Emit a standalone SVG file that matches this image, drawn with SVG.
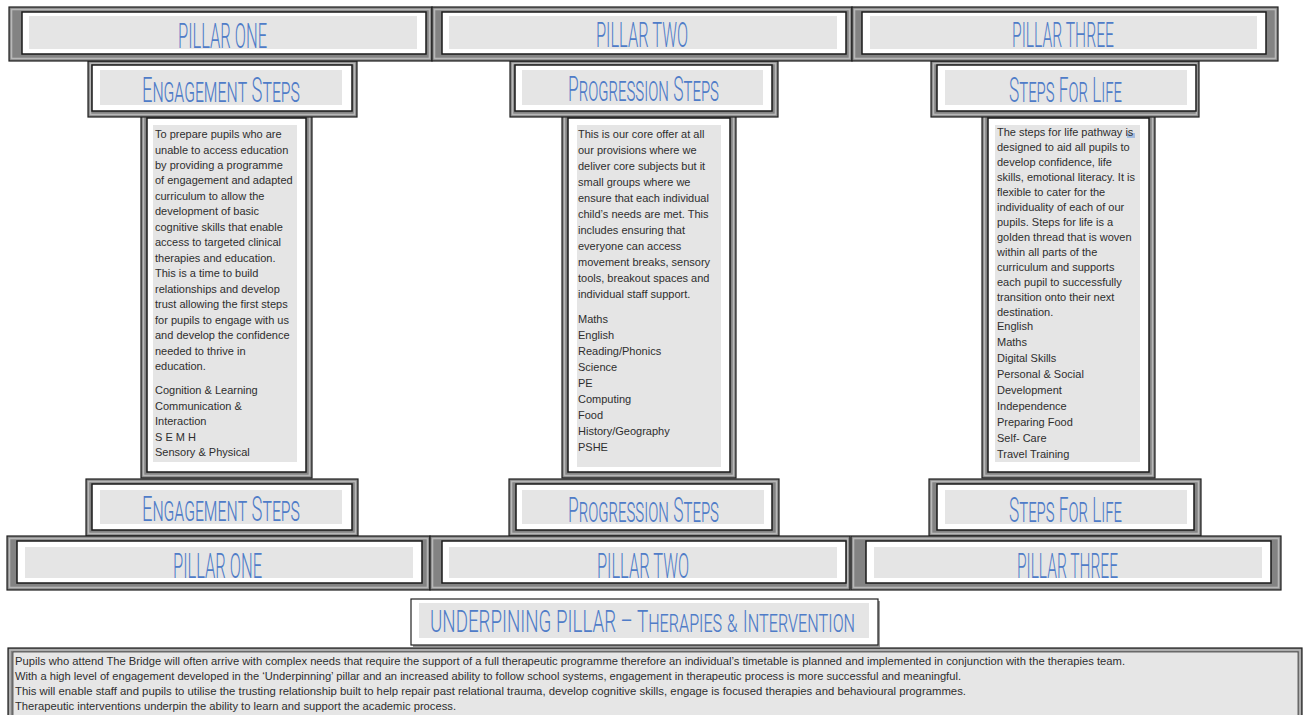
<svg xmlns="http://www.w3.org/2000/svg" width="1303" height="715" viewBox="0 0 1303 715">
<defs>
<style>
.frame{fill:#838383;stroke:#1e1e1e;stroke-width:1.2}
.bevel{fill:none;stroke:#c2c2c2;stroke-width:1.6;opacity:.85}
.inner{fill:#fff;stroke:#1a1a1a;stroke-width:1.5}
.panel{fill:#e5e5e5}
.title{font-family:Roboto,"Liberation Sans",sans-serif;font-weight:300;fill:#4f7cc8}
.sc{font-variant:small-caps}
.body{font-family:"Liberation Sans",Arial,sans-serif;font-size:11px;fill:#2e2e2e}
.foot{font-family:"Liberation Sans",Arial,sans-serif;font-size:10.5px;fill:#2e2e2e}
</style>
</defs>
<rect width="1303" height="715" fill="#fff"/>

<!-- Columns -->
<g id="column-one">
<rect class="frame" x="141" y="114" width="171" height="364"/>
<rect class="bevel" x="143.5" y="116.5" width="166" height="359"/>
<rect class="inner" x="147" y="118" width="159" height="354"/>
<rect class="panel" x="153" y="125" width="144" height="337"/>
<g class="body">
<text x="155" y="138">To prepare pupils who are</text>
<text x="155" y="153.5">unable to access education</text>
<text x="155" y="169">by providing a programme</text>
<text x="155" y="184.4">of engagement and adapted</text>
<text x="155" y="199.9">curriculum to allow the</text>
<text x="155" y="215.4">development of basic</text>
<text x="155" y="230.8">cognitive skills that enable</text>
<text x="155" y="246.3">access to targeted clinical</text>
<text x="155" y="261.8">therapies and education.</text>
<text x="155" y="277.2">This is a time to build</text>
<text x="155" y="292.7">relationships and develop</text>
<text x="155" y="308.2">trust allowing the first steps</text>
<text x="155" y="323.6">for pupils to engage with us</text>
<text x="155" y="339.1">and develop the confidence</text>
<text x="155" y="354.6">needed to thrive in</text>
<text x="155" y="370">education.</text>
<text x="155" y="394.3">Cognition &amp; Learning</text>
<text x="155" y="409.8">Communication &amp;</text>
<text x="155" y="425.3">Interaction</text>
<text x="155" y="440.8">S E M H</text>
<text x="155" y="456.3">Sensory &amp; Physical</text>
</g>
</g>

<g id="column-two">
<rect class="frame" x="562" y="114" width="174" height="364"/>
<rect class="bevel" x="564.5" y="116.5" width="169" height="359"/>
<rect class="inner" x="568" y="118" width="162" height="354"/>
<rect class="panel" x="577" y="125" width="144" height="342"/>
<g class="body">
<text x="578" y="137.5">This is our core offer at all</text>
<text x="578" y="153.5">our provisions where we</text>
<text x="578" y="169.5">deliver core subjects but it</text>
<text x="578" y="185.5">small groups where we</text>
<text x="578" y="201.5">ensure that each individual</text>
<text x="578" y="217.5">child’s needs are met. This</text>
<text x="578" y="233.5">includes ensuring that</text>
<text x="578" y="249.5">everyone can access</text>
<text x="578" y="265.5">movement breaks, sensory</text>
<text x="578" y="281.5">tools, breakout spaces and</text>
<text x="578" y="297.5">individual staff support.</text>
<text x="578" y="323">Maths</text>
<text x="578" y="339">English</text>
<text x="578" y="355">Reading/Phonics</text>
<text x="578" y="371">Science</text>
<text x="578" y="387">PE</text>
<text x="578" y="403">Computing</text>
<text x="578" y="419">Food</text>
<text x="578" y="435">History/Geography</text>
<text x="578" y="451">PSHE</text>
</g>
</g>

<g id="column-three">
<rect class="frame" x="982" y="114" width="173" height="364"/>
<rect class="bevel" x="984.5" y="116.5" width="168" height="359"/>
<rect class="inner" x="988" y="118" width="161" height="354"/>
<rect class="panel" x="995" y="125" width="145" height="337"/>
<rect x="1127" y="133" width="8" height="5" fill="#8fb0e0" opacity="0.75"/>
<g class="body">
<text x="997" y="135.7">The steps for life pathway is</text>
<text x="997" y="150.7">designed to aid all pupils to</text>
<text x="997" y="165.7">develop confidence, life</text>
<text x="997" y="180.7">skills, emotional literacy. It is</text>
<text x="997" y="195.7">flexible to cater for the</text>
<text x="997" y="210.7">individuality of each of our</text>
<text x="997" y="225.7">pupils. Steps for life is a</text>
<text x="997" y="240.7">golden thread that is woven</text>
<text x="997" y="255.7">within all parts of the</text>
<text x="997" y="270.7">curriculum and supports</text>
<text x="997" y="285.7">each pupil to successfully</text>
<text x="997" y="300.7">transition onto their next</text>
<text x="997" y="315.7">destination.</text>
<text x="997" y="330.3">English</text>
<text x="997" y="346.2">Maths</text>
<text x="997" y="362.1">Digital Skills</text>
<text x="997" y="378">Personal &amp; Social</text>
<text x="997" y="394">Development</text>
<text x="997" y="410">Independence</text>
<text x="997" y="425.8">Preparing Food</text>
<text x="997" y="441.7">Self- Care</text>
<text x="997" y="457.6">Travel Training</text>
</g>
</g>

<!-- Top step boxes -->
<g id="engagement-top">
<rect class="frame" x="88" y="61" width="269" height="56"/>
<rect class="bevel" x="90.5" y="63.5" width="264" height="51"/>
<rect class="inner" x="92" y="65" width="260" height="46"/>
<rect class="panel" x="100" y="70" width="242" height="35"/>
<text class="title sc" x="142" y="102" font-size="35" textLength="158" lengthAdjust="spacingAndGlyphs">Engagement Steps</text>
</g>
<g id="progression-top">
<rect class="frame" x="510" y="61" width="268" height="56"/>
<rect class="bevel" x="512.5" y="63.5" width="263" height="51"/>
<rect class="inner" x="515" y="65" width="257" height="46"/>
<rect class="panel" x="522" y="70" width="241" height="35"/>
<text class="title sc" x="568" y="101" font-size="35" textLength="151" lengthAdjust="spacingAndGlyphs">Progression Steps</text>
</g>
<g id="stepsforlife-top">
<rect class="frame" x="931" y="61" width="268" height="56"/>
<rect class="bevel" x="933.5" y="63.5" width="263" height="51"/>
<rect class="inner" x="937" y="65" width="259" height="46"/>
<rect class="panel" x="945" y="70" width="242" height="35"/>
<text class="title sc" x="1009" y="102" font-size="35" textLength="113" lengthAdjust="spacingAndGlyphs">Steps For Life</text>
</g>

<!-- Top pillars -->
<g id="pillar-one-top">
<rect class="frame" x="9" y="7" width="423" height="54"/>
<rect class="bevel" x="11.5" y="9.5" width="418" height="49"/>
<rect class="inner" x="22" y="12" width="404" height="42"/>
<rect class="panel" x="29" y="16" width="388" height="33"/>
<text class="title" x="178" y="48" font-size="35" textLength="89" lengthAdjust="spacingAndGlyphs">PILLAR ONE</text>
</g>
<g id="pillar-two-top">
<rect class="frame" x="432" y="7" width="420" height="54"/>
<rect class="bevel" x="434.5" y="9.5" width="415" height="49"/>
<rect class="inner" x="442" y="12" width="404" height="42"/>
<rect class="panel" x="449" y="16" width="388" height="33"/>
<text class="title" x="596" y="47" font-size="35" textLength="92" lengthAdjust="spacingAndGlyphs">PILLAR TWO</text>
</g>
<g id="pillar-three-top">
<rect class="frame" x="852" y="7" width="426" height="54"/>
<rect class="bevel" x="854.5" y="9.5" width="421" height="49"/>
<rect class="inner" x="862" y="12" width="404" height="42"/>
<rect class="panel" x="870" y="16" width="387" height="33"/>
<text class="title" x="1012" y="47" font-size="35" textLength="102" lengthAdjust="spacingAndGlyphs">PILLAR THREE</text>
</g>

<!-- Bottom step boxes -->
<g id="engagement-bottom">
<rect class="frame" x="86" y="479" width="272" height="57"/>
<rect class="bevel" x="88.5" y="481.5" width="267" height="52"/>
<rect class="inner" x="92" y="484" width="260" height="46"/>
<rect class="panel" x="100" y="490" width="242" height="34"/>
<text class="title sc" x="142" y="521" font-size="35" textLength="158" lengthAdjust="spacingAndGlyphs">Engagement Steps</text>
</g>
<g id="progression-bottom">
<rect class="frame" x="509" y="479" width="270" height="57"/>
<rect class="bevel" x="511.5" y="481.5" width="265" height="52"/>
<rect class="inner" x="516" y="484" width="256" height="46"/>
<rect class="panel" x="522" y="490" width="242" height="34"/>
<text class="title sc" x="568" y="522" font-size="35" textLength="151" lengthAdjust="spacingAndGlyphs">Progression Steps</text>
</g>
<g id="stepsforlife-bottom">
<rect class="frame" x="929" y="479" width="272" height="57"/>
<rect class="bevel" x="931.5" y="481.5" width="267" height="52"/>
<rect class="inner" x="937" y="484" width="257" height="46"/>
<rect class="panel" x="945" y="490" width="242" height="34"/>
<text class="title sc" x="1009" y="522" font-size="35" textLength="113" lengthAdjust="spacingAndGlyphs">Steps For Life</text>
</g>

<!-- Bottom pillars -->
<g id="pillar-one-bottom">
<rect class="frame" x="7" y="536" width="423" height="54"/>
<rect class="bevel" x="9.5" y="538.5" width="418" height="49"/>
<rect class="inner" x="17" y="541" width="405" height="42"/>
<rect class="panel" x="25" y="547" width="388" height="31"/>
<text class="title" x="173" y="578" font-size="35" textLength="89" lengthAdjust="spacingAndGlyphs">PILLAR ONE</text>
</g>
<g id="pillar-two-bottom">
<rect class="frame" x="430" y="536" width="420" height="54"/>
<rect class="bevel" x="432.5" y="538.5" width="415" height="49"/>
<rect class="inner" x="442" y="541" width="404" height="42"/>
<rect class="panel" x="449" y="547" width="388" height="31"/>
<text class="title" x="597" y="578" font-size="35" textLength="92" lengthAdjust="spacingAndGlyphs">PILLAR TWO</text>
</g>
<g id="pillar-three-bottom">
<rect class="frame" x="851" y="536" width="430" height="54"/>
<rect class="bevel" x="853.5" y="538.5" width="425" height="49"/>
<rect class="inner" x="866" y="541" width="405" height="42"/>
<rect class="panel" x="874" y="547" width="388" height="31"/>
<text class="title" x="1017" y="578" font-size="35" textLength="101" lengthAdjust="spacingAndGlyphs">PILLAR THREE</text>
</g>

<!-- Underpinning pillar -->
<g id="underpinning-title">
<rect x="413" y="601" width="467" height="46" fill="#9a9a9a"/>
<rect x="411" y="599" width="467" height="46" fill="#fff" stroke="#222" stroke-width="1.2"/>
<rect class="panel" x="419" y="603" width="450" height="35"/>
<text class="title sc" x="430" y="632" font-size="31" textLength="425" lengthAdjust="spacingAndGlyphs">UNDERPINING PILLAR – Therapies &amp; Intervention</text>
</g>

<g id="underpinning-text">
<rect class="frame" x="8" y="648" width="1294" height="70"/>
<rect class="bevel" x="10" y="650" width="1290" height="66"/>
<rect x="13" y="652" width="1285" height="66" fill="#e6e6e6" stroke="#444" stroke-width="0.8"/>
<g class="foot">
<text x="15" y="665" textLength="1110" lengthAdjust="spacingAndGlyphs">Pupils who attend The Bridge will often arrive with complex needs that require the support of a full therapeutic programme therefore an individual’s timetable is planned and implemented in conjunction with the therapies team.</text>
<text x="15" y="680" textLength="946" lengthAdjust="spacingAndGlyphs">With a high level of engagement developed in the ‘Underpinning’ pillar and an increased ability to follow school systems, engagement in therapeutic process is more successful and meaningful.</text>
<text x="15" y="695" textLength="951" lengthAdjust="spacingAndGlyphs">This will enable staff and pupils to utilise the trusting relationship built to help repair past relational trauma, develop cognitive skills, engage is focused therapies and behavioural programmes.</text>
<text x="15" y="710" textLength="441" lengthAdjust="spacingAndGlyphs">Therapeutic interventions underpin the ability to learn and support the academic process.</text>
</g>
</g>
</svg>
